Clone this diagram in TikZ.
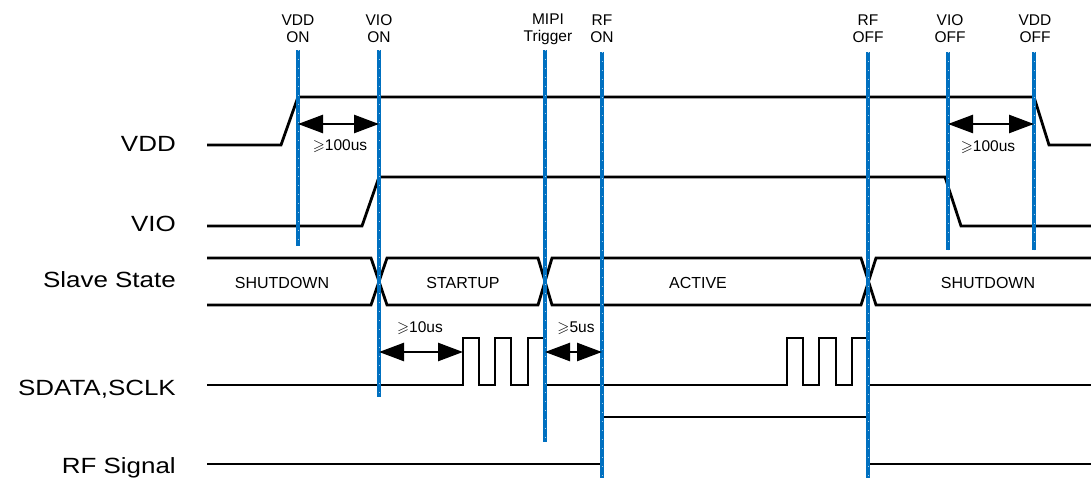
\documentclass[tikz,border=0pt]{standalone}
\usepackage{fontspec}
\usepackage{amssymb}
\setmainfont{Liberation Sans}
\newfontfamily\sidefont[FakeStretch=1.18]{Liberation Sans}
\usetikzlibrary{arrows.meta}
\definecolor{mblue}{RGB}{0,112,192}
\begin{document}
\begin{tikzpicture}[x=1pt,y=-1pt,
  sig/.style={line width=2.8pt, line join=miter},
  marker/.style={draw=mblue, line width=3.4pt},
  markertick/.style={draw=mblue!35, line width=0.8pt, dash pattern=on 1pt off 8pt},
  dimarrow/.style={line width=2.5pt, {Triangle[length=25pt,width=18pt]}-{Triangle[length=25pt,width=18pt]}},
  toplab/.style={font=\fontsize{15.5}{17}\selectfont, align=center, inner sep=0pt},
  sidelab/.style={font=\sidefont\fontsize{22}{24}\selectfont, anchor=base east, inner sep=0pt},
  statelab/.style={font=\fontsize{16}{18}\selectfont, inner sep=0pt},
  dimlab/.style={font=\fontsize{15.5}{17}\selectfont, inner sep=0pt}]
\useasboundingbox (0,0) rectangle (1091,478);

% side labels
\node[sidelab] (lvdd) at (176,152) {VDD};
\node[sidelab] (lvio) at (176,232) {VIO};
\node[sidelab] (lss) at (176,287) {Slave State};
\node[sidelab] (lsd) at (176,395) {SDATA,SCLK};
\node[sidelab] (lrf) at (176,473) {RF Signal};

% signals
\draw[sig] (207,145) -- (281,145) -- (298,97) -- (1034,97) -- (1049,145) -- (1091,145);
\draw[sig] (207,226) -- (362,226) -- (379,177) -- (945,177) -- (961,226) -- (1091,226);
\draw[sig] (207,258) -- (371,258) -- (387,305) -- (538,305) -- (552,258) -- (861,258) -- (876,305) -- (1091,305);
\draw[sig] (207,305) -- (371,305) -- (387,258) -- (538,258) -- (552,305) -- (861,305) -- (876,258) -- (1091,258);
\draw[sig] (207,385) -- (463,385) -- (463,338) -- (479,338) -- (479,385) -- (495,385) -- (495,338)
  -- (511,338) -- (511,385) -- (528,385) -- (528,338) -- (545,338) -- (545,385)
  -- (787,385) -- (787,338) -- (803,338) -- (803,385) -- (819,385) -- (819,338)
  -- (836,338) -- (836,385) -- (852,385) -- (852,338) -- (868,338) -- (868,385) -- (1091,385);
\draw[sig] (207,464) -- (602,464) -- (602,417) -- (868,417) -- (868,464) -- (1091,464);

% state labels
\node[statelab] (s1) at (282,283) {SHUTDOWN};
\node[statelab] (s2) at (463,283) {STARTUP};
\node[statelab] (s3) at (698,283) {ACTIVE};
\node[statelab] (s4) at (988,283) {SHUTDOWN};

% markers
\coordinate (m1t) at (298,50);  \coordinate (m1b) at (298,246);
\coordinate (m2t) at (379,50);  \coordinate (m2b) at (379,397);
\coordinate (m3t) at (545,50);  \coordinate (m3b) at (545,442);
\coordinate (m4t) at (602,52);  \coordinate (m4b) at (602,478);
\coordinate (m5t) at (868,52);  \coordinate (m5b) at (868,478);
\coordinate (m6t) at (948,52);  \coordinate (m6b) at (948,250);
\coordinate (m7t) at (1034,52); \coordinate (m7b) at (1034,250);
\foreach \i in {1,...,7} {
  \draw[marker] (m\i t) -- (m\i b);
  \draw[markertick] (m\i t) -- (m\i b);
}

\node[toplab] (t1) at (298,29) {VDD\\ON};
\node[toplab] (t2) at (379,29) {VIO\\ON};
\node[toplab] (t3) at (548,29) {MIPI\\Trigger};
\node[toplab] (t4) at (602,29) {RF\\ON};
\node[toplab] (t5) at (868,29) {RF\\OFF};
\node[toplab] (t6) at (950,29) {VIO\\OFF};
\node[toplab] (t7) at (1035,29) {VDD\\OFF};

% dimension arrows
\coordinate (a1l) at (298,124); \coordinate (a1r) at (379,124);
\coordinate (a2l) at (948,124); \coordinate (a2r) at (1034,124);
\coordinate (a3l) at (379,352); \coordinate (a3r) at (463,352);
\coordinate (a4l) at (545,352); \coordinate (a4r) at (602,352);
\draw[dimarrow] (a1l) -- (a1r);
\draw[dimarrow] (a2l) -- (a2r);
\draw[dimarrow] (a3l) -- (a3r);
\draw[dimarrow] (a4l) -- (a4r);
\node[dimlab] (d1) at (340,146) {$\geqslant$100us};
\node[dimlab] (d2) at (988,147) {$\geqslant$100us};
\node[dimlab] (d3) at (420,328) {$\geqslant$10us};
\node[dimlab] (d4) at (576,328) {$\geqslant$5us};
\end{tikzpicture}
\end{document}
